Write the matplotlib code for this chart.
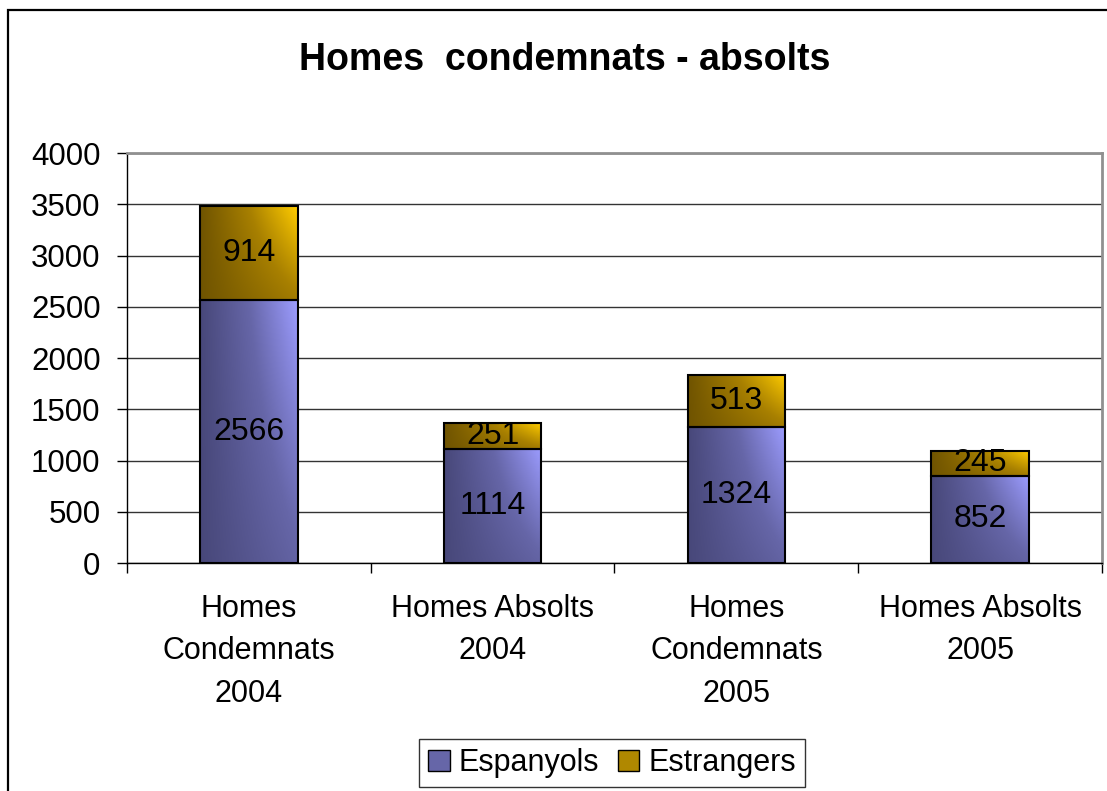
import numpy as np
import matplotlib.pyplot as plt
from matplotlib.colors import LinearSegmentedColormap
from matplotlib.patches import Rectangle, Patch

plt.rcParams['font.family'] = ['Liberation Sans', 'DejaVu Sans']

categories = ["Homes\nCondemnats\n2004", "Homes Absolts\n2004",
              "Homes\nCondemnats\n2005", "Homes Absolts\n2005"]
espanyols = [2566, 1114, 1324, 852]
estrangers = [914, 251, 513, 245]

blue_map = LinearSegmentedColormap.from_list("blue", ["#48487a", "#6666a8", "#9c9cff"])
gold_map = LinearSegmentedColormap.from_list("gold", ["#705400", "#a88000", "#ffcc00"])

# diagonal gradient: dark on the left and bottom, light at top right
gx, gy = np.meshgrid(np.linspace(0, 1, 60), np.linspace(0, 1, 120))
grad = gx * (0.45 + 0.55 * gy)

fig = plt.figure(figsize=(11.07, 7.91), dpi=100)
ax = fig.add_axes([0.1147, 0.2882, 0.8808, 0.5183])

x = np.arange(len(categories))
width = 0.4

def grad_bar(xs, heights, bottoms, cmap):
    bars = ax.bar(xs, heights, width, bottom=bottoms, facecolor="none",
                  edgecolor="black", linewidth=1.5, zorder=3)
    for b in bars:
        x0, y0 = b.get_x(), b.get_y()
        im = ax.imshow(grad, extent=[x0, x0 + b.get_width(), y0, y0 + b.get_height()],
                       origin="lower", aspect="auto", cmap=cmap, zorder=2,
                       interpolation="bilinear")
        im.set_clip_path(b)
    return bars

grad_bar(x, espanyols, 0, blue_map)
grad_bar(x, estrangers, espanyols, gold_map)

for i in range(len(categories)):
    ax.text(x[i], espanyols[i] / 2, str(espanyols[i]), ha="center", va="center",
            fontsize=23, zorder=4)
    ax.text(x[i], espanyols[i] + estrangers[i] / 2, str(estrangers[i]),
            ha="center", va="center", fontsize=23, zorder=4)

ax.set_xlim(-0.5, 3.5)
ax.set_ylim(0, 4000)
ax.set_yticks(np.arange(0, 4001, 500))
ax.yaxis.grid(True, color="#333333", linewidth=1)
ax.set_axisbelow(True)

ax.set_xticks(x)
ax.set_xticklabels(categories, fontsize=22, linespacing=1.55)
ax.set_xticks(np.arange(-0.5, 3.6, 1), minor=True)
ax.tick_params(axis="x", which="major", length=0, pad=22)
ax.tick_params(axis="x", which="minor", length=7, width=1, direction="out")
ax.tick_params(axis="y", length=7, width=1, pad=12, labelsize=22.5)

for s in ["left", "bottom"]:
    ax.spines[s].set_color("black")
    ax.spines[s].set_linewidth(1)
for s in ["top", "right"]:
    ax.spines[s].set_color("#909090")
    ax.spines[s].set_linewidth(2)

fig.text(0.510, 0.924, "Homes  condemnats - absolts", ha="center", va="center",
         fontsize=27, fontweight="bold")

handles = [Patch(facecolor="#6666a8", edgecolor="black", label="Espanyols"),
           Patch(facecolor="#b08800", edgecolor="black", label="Estrangers")]
leg = fig.legend(handles=handles, loc="center", bbox_to_anchor=(0.553, 0.0354),
                 ncol=2, fontsize=22, frameon=True, fancybox=False,
                 handlelength=0.7, handleheight=0.7, handletextpad=0.3,
                 columnspacing=0.6, borderpad=0.3, borderaxespad=0.0)
leg.get_frame().set_edgecolor("black")
leg.get_frame().set_linewidth(1)

# outer chart border, cut off at the right and bottom like the source
fig.add_artist(Rectangle((8 / 1107, -0.05), 1.2, 1 - 10 / 791 + 0.05,
                         transform=fig.transFigure, fill=False,
                         edgecolor="black", linewidth=1.6))

fig.savefig("out.png", dpi=100)
